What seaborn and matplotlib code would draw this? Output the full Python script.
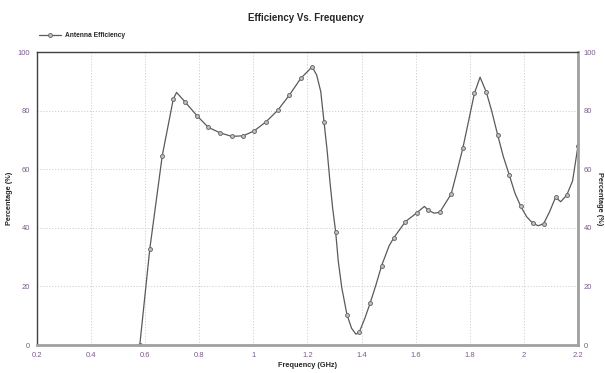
import numpy as np
import pandas as pd
import matplotlib
matplotlib.use("Agg")
import matplotlib.pyplot as plt
from matplotlib.lines import Line2D
import seaborn as sns

# Marker points (GHz, %)
marker_freq = [0.580, 0.617, 0.663, 0.704, 0.747, 0.791, 0.833, 0.877, 0.920, 0.963,
               1.003, 1.047, 1.090, 1.133, 1.175, 1.217, 1.261, 1.304, 1.346, 1.391,
               1.432, 1.474, 1.519, 1.562, 1.604, 1.647, 1.689, 1.731, 1.774, 1.817,
               1.861, 1.903, 1.946, 1.988, 2.032, 2.073, 2.117, 2.158, 2.200]
marker_eff = [0.0, 32.8, 64.6, 84.0, 83.0, 78.3, 74.3, 72.4, 71.2, 71.4,
              73.1, 76.2, 80.1, 85.3, 91.0, 95.0, 76.2, 38.7, 10.3, 4.3,
              14.4, 27.1, 36.6, 42.1, 45.1, 46.0, 45.3, 51.5, 67.1, 85.9,
              86.3, 71.7, 58.0, 47.4, 41.6, 41.4, 50.4, 51.1, 68.0]

# Additional curve points read between markers (peaks, dips, bends)
curve_freq = [0.716, 1.203, 1.234, 1.249, 1.273, 1.283, 1.293, 1.314, 1.327,
              1.363, 1.379, 1.412, 1.453, 1.502, 1.632, 1.668, 1.751, 1.795,
              1.838, 1.880, 1.924, 1.967, 2.010, 2.053, 2.095, 2.136, 2.180]
curve_eff = [86.2, 93.6, 92.1, 86.5, 66.0, 55.7, 46.7, 28.4, 19.4,
             5.7, 3.7, 9.1, 20.5, 33.9, 47.3, 45.0, 58.6, 76.2,
             91.4, 80.2, 64.3, 51.8, 43.8, 40.7, 45.5, 48.9, 56.0]

title = "Efficiency Vs. Frequency"
series_name = "Antenna Efficiency"
x_label = "Frequency (GHz)"
y_label = "Percentage (%)"
x_ticks = [0.2, 0.4, 0.6, 0.8, 1.0, 1.2, 1.4, 1.6, 1.8, 2.0, 2.2]
x_tick_labels = ["0.2", "0.4", "0.6", "0.8", "1", "1.2", "1.4", "1.6", "1.8", "2", "2.2"]
y_ticks = [0, 20, 40, 60, 80, 100]

df = pd.concat([
    pd.DataFrame({"freq": marker_freq, "eff": marker_eff, "mark": True}),
    pd.DataFrame({"freq": curve_freq, "eff": curve_eff, "mark": False}),
]).sort_values("freq").reset_index(drop=True)
mark_idx = list(df.index[df["mark"]])

sns.set_style("white")
plt.rcParams["font.family"] = ["Liberation Sans", "DejaVu Sans"]

fig = plt.figure(figsize=(6.05, 3.73), dpi=100)
ax = fig.add_axes([37 / 605, 28 / 373, 541 / 605, 293 / 373])

line_col = "#5a5a5a"
mk = dict(marker="o", markersize=2.8, markerfacecolor="#c4c4c4",
          markeredgecolor="#6a6a6a", markeredgewidth=0.7)
sns.lineplot(data=df, x="freq", y="eff", ax=ax, color=line_col, linewidth=0.9,
             markevery=mark_idx, sort=False, estimator=None, **mk)

ax.set_xlim(0.2, 2.2)
ax.set_ylim(0, 100)
ax.set_xticks(x_ticks)
ax.set_xticklabels(x_tick_labels)
ax.set_yticks(y_ticks)
ax.grid(True, color="#cfcfcf", linestyle=(0, (1.2, 1.8)), linewidth=0.7)
tick_col = "#7a5c8a"
ax.tick_params(axis="both", length=0, labelsize=5.5, labelcolor=tick_col)
ax.tick_params(axis="y", pad=5)
ax.tick_params(axis="x", pad=5)
ax.set_xlabel(x_label, fontsize=5.3, fontweight="bold", labelpad=2)
ax.set_ylabel(y_label, fontsize=5.3, fontweight="bold", labelpad=3)

for side in ["top", "left"]:
    ax.spines[side].set_color("#404040")
    ax.spines[side].set_linewidth(1.0)
for side in ["bottom", "right"]:
    ax.spines[side].set_color("#a0a0a0")
    ax.spines[side].set_linewidth(2.0)

ax2 = ax.twinx()
ax2.set_ylim(0, 100)
ax2.set_yticks(y_ticks)
ax2.tick_params(axis="y", length=0, labelsize=5.5, labelcolor=tick_col, pad=4)
ax2.set_ylabel(y_label, fontsize=5.3, fontweight="bold", rotation=270, labelpad=5)
for s in ax2.spines.values():
    s.set_visible(False)

fig.text(0.505, 0.953, title, ha="center", va="center", fontsize=7, fontweight="bold")

handle = Line2D([0], [0], color=line_col, linewidth=0.9, **mk)
fig.legend([handle], [series_name], loc="center left", bbox_to_anchor=(0.055, 0.905),
           frameon=False, handlelength=3.2, handletextpad=0.6,
           prop={"weight": "bold", "size": 4.8})

fig.savefig("out.png", dpi=100)
